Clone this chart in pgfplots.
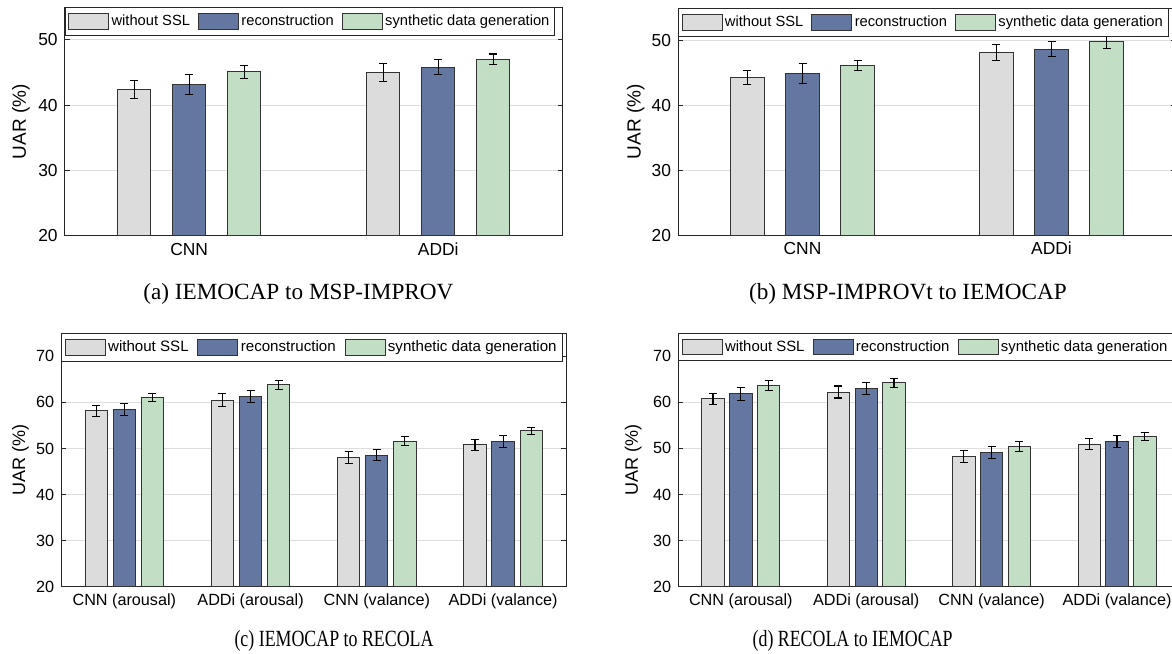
\documentclass[border=0pt]{standalone}
\usepackage{pgfplots}
\pgfplotsset{compat=1.18}
\usepackage{pgfplotstable}
\usepackage{fontspec}
\setmainfont{Liberation Sans}
\newfontfamily\capfont{Liberation Serif}
\definecolor{cgray}{RGB}{220,220,220}
\definecolor{cblue}{RGB}{99,119,160}
\definecolor{cgreen}{RGB}{194,223,198}
\definecolor{cframe}{RGB}{38,38,38}

\pgfplotstableread{
x g ge b be s se
1 42.45 1.4 43.2 1.5 45.1 1.0
2 45.05 1.4 45.8 1.15 47.05 0.8
}\tabA
\pgfplotstableread{
x g ge b be s se
1 44.3 1.1 44.95 1.5 46.2 0.8
2 48.2 1.2 48.7 1.15 49.85 1.0
}\tabB
\pgfplotstableread{
x g ge b be s se
1 58.2 1.2 58.5 1.3 61.1 0.9
2 60.5 1.35 61.25 1.3 63.85 1.0
3 48.1 1.3 48.55 1.2 51.6 1.0
4 50.8 1.2 51.5 1.25 53.8 0.8
}\tabC
\pgfplotstableread{
x g ge b be s se
1 60.7 1.25 61.8 1.4 63.6 1.15
2 62.2 1.3 63.0 1.3 64.2 1.0
3 48.3 1.3 49.0 1.3 50.35 1.1
4 50.9 1.2 51.55 1.3 52.55 0.9
}\tabD

\pgfplotsset{
 uarstyle/.style={
  scale only axis,
  ybar,
  ymajorgrids, grid style={black!13, line width=0.5pt},
  axis line style={cframe, line width=0.5pt},
  tick align=inside, xtick pos=both, ytick pos=both,
  major tick length=2.5pt,
  tick style={cframe, line width=0.5pt},
  /pgf/number format/assume math mode=true,
  ylabel={UAR (\%)},
  error bars/error bar style={black, line width=0.55pt},
  error bars/error mark=-,
  error bars/error mark options={rotate=90, black, line width=0.55pt, mark size=2pt},
  legend columns=3,
  legend cell align=left,
  legend style={at={(rel axis cs:0,1)}, anchor=north west, draw=cframe, line width=0.5pt, fill=white, inner xsep=1.5pt, inner ysep=2.2pt, nodes={inner sep=1.2pt}, /tikz/every even column/.append style={column sep=2.8pt}},
  legend image code/.code={\draw[##1] (0pt,-3.8pt) rectangle (20pt,3.8pt);},
 },
 gbar/.style={fill=cgray, draw=black!80, line width=0.5pt},
 bbar/.style={fill=cblue, draw=black!80, line width=0.5pt},
 sbar/.style={fill=cgreen, draw=black!80, line width=0.5pt},
}

\begin{document}
\begin{tikzpicture}
% (a)
\begin{axis}[uarstyle, at={(32.35pt,-3.65pt)}, anchor=north west,
  width=249pt, height=114.35pt,
  xmin=0.5, xmax=2.5, ymin=20, ymax=55, ytick={20,30,40,50},
  xtick={1,2}, xticklabels={CNN,ADDi},
  bar width=16.65pt,
  tick label style={font=\fontsize{8.7}{10}\selectfont},
  ylabel style={font=\fontsize{9.5}{11}\selectfont, at={(axis description cs:-0.0877,0.5)}, anchor=center},
  legend style={font=\fontsize{7.35}{8.5}\selectfont}]
\addplot[gbar, bar shift=-27.55pt, error bars/.cd, y dir=both, y explicit] table[x=x, y=g, y error=ge] {\tabA};
\addplot[bbar, bar shift=0pt, error bars/.cd, y dir=both, y explicit] table[x=x, y=b, y error=be] {\tabA};
\addplot[sbar, bar shift=27.55pt, error bars/.cd, y dir=both, y explicit] table[x=x, y=s, y error=se] {\tabA};
\legend{without SSL, reconstruction, synthetic data generation}
\end{axis}
% (b)
\begin{axis}[uarstyle, at={(339pt,-4.15pt)}, anchor=north west,
  width=249pt, height=113.4pt,
  xmin=0.5, xmax=2.5, ymin=20, ymax=55, ytick={20,30,40,50},
  xtick={1,2}, xticklabels={CNN,ADDi},
  bar width=16.65pt,
  tick label style={font=\fontsize{8.7}{10}\selectfont},
  ylabel style={font=\fontsize{9.5}{11}\selectfont, at={(axis description cs:-0.085,0.5)}, anchor=center},
  legend style={font=\fontsize{7.35}{8.5}\selectfont}]
\addplot[gbar, bar shift=-27.55pt, error bars/.cd, y dir=both, y explicit] table[x=x, y=g, y error=ge] {\tabB};
\addplot[bbar, bar shift=0pt, error bars/.cd, y dir=both, y explicit] table[x=x, y=b, y error=be] {\tabB};
\addplot[sbar, bar shift=27.55pt, error bars/.cd, y dir=both, y explicit] table[x=x, y=s, y error=se] {\tabB};
\legend{without SSL, reconstruction, synthetic data generation}
\end{axis}
% (c)
\begin{axis}[uarstyle, at={(30.6pt,-166.65pt)}, anchor=north west,
  width=252.5pt, height=126.7pt,
  xmin=0.5, xmax=4.5, ymin=20, ymax=75, ytick={20,30,40,50,60,70},
  xtick={1,2,3,4}, xticklabels={CNN (arousal),ADDi (arousal),CNN (valance),ADDi (valance)},
  bar width=11.1pt,
  tick label style={font=\fontsize{8.1}{9.5}\selectfont},
  ylabel style={font=\fontsize{9}{11}\selectfont, at={(axis description cs:-0.0806,0.5)}, anchor=center},
  legend style={font=\fontsize{7.55}{9}\selectfont, /tikz/every even column/.append style={column sep=3.2pt}}]
\addplot[gbar, bar shift=-14.05pt, error bars/.cd, y dir=both, y explicit] table[x=x, y=g, y error=ge] {\tabC};
\addplot[bbar, bar shift=0pt, error bars/.cd, y dir=both, y explicit] table[x=x, y=b, y error=be] {\tabC};
\addplot[sbar, bar shift=14.05pt, error bars/.cd, y dir=both, y explicit] table[x=x, y=s, y error=se] {\tabC};
\legend{without SSL, reconstruction, synthetic data generation}
\end{axis}
% (d)
\begin{axis}[uarstyle, at={(339.05pt,-166.5pt)}, anchor=north west,
  width=250.8pt, height=126.85pt,
  xmin=0.5, xmax=4.5, ymin=20, ymax=75, ytick={20,30,40,50,60,70},
  xtick={1,2,3,4}, xticklabels={CNN (arousal),ADDi (arousal),CNN (valance),ADDi (valance)},
  bar width=11.2pt,
  tick label style={font=\fontsize{8.1}{9.5}\selectfont},
  ylabel style={font=\fontsize{9}{11}\selectfont, at={(axis description cs:-0.0897,0.5)}, anchor=center},
  legend style={font=\fontsize{7.45}{9}\selectfont}]
\addplot[gbar, bar shift=-13.9pt, error bars/.cd, y dir=both, y explicit] table[x=x, y=g, y error=ge] {\tabD};
\addplot[bbar, bar shift=0pt, error bars/.cd, y dir=both, y explicit] table[x=x, y=b, y error=be] {\tabD};
\addplot[sbar, bar shift=13.9pt, error bars/.cd, y dir=both, y explicit] table[x=x, y=s, y error=se] {\tabD};
\legend{without SSL, reconstruction, synthetic data generation}
\end{axis}
% captions
\node[font=\capfont\fontsize{11.6}{14}\selectfont] at (149.2pt,-147pt) {(a) IEMOCAP to MSP-IMPROV};
\node[font=\capfont\fontsize{11.6}{14}\selectfont] at (454pt,-147pt) {(b) MSP-IMPROVt to IEMOCAP};
\node[font=\capfont\fontsize{11.6}{14}\selectfont] at (167pt,-320.5pt) {\scalebox{0.77}[1]{(c) IEMOCAP to RECOLA}};
\node[font=\capfont\fontsize{11.6}{14}\selectfont] at (426.3pt,-320.5pt) {\scalebox{0.77}[1]{(d) RECOLA to IEMOCAP}};
\pgfresetboundingbox
\path[use as bounding box] (0pt,0pt) rectangle (586pt,-326.5pt);
\end{tikzpicture}
\end{document}
